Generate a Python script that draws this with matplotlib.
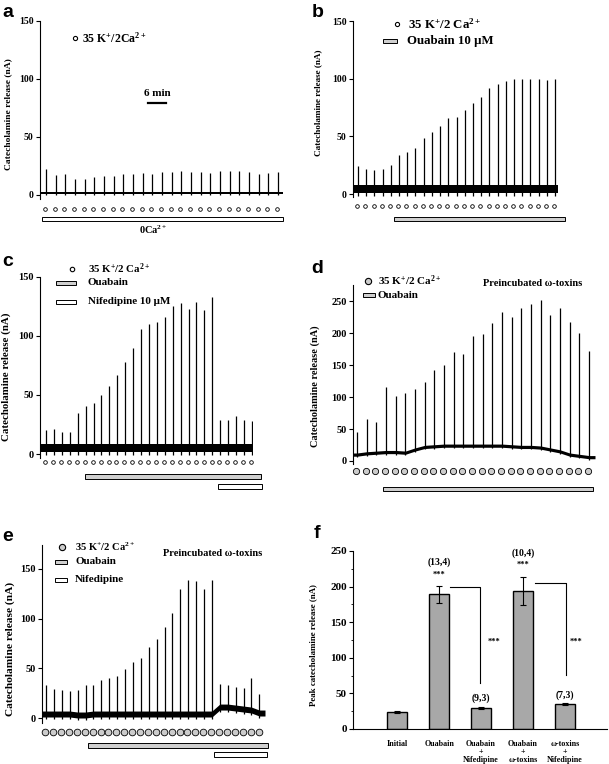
import numpy as np
import matplotlib
matplotlib.use('Agg')
import matplotlib.pyplot as plt
from matplotlib.patches import Rectangle
from matplotlib.lines import Line2D

plt.rcParams['font.family'] = 'Liberation Serif'
plt.rcParams['font.weight'] = 'bold'
plt.rcParams['mathtext.fontset'] = 'custom'
plt.rcParams['mathtext.rm'] = 'Liberation Serif:bold'
plt.rcParams['mathtext.it'] = 'Liberation Serif:bold'
plt.rcParams['mathtext.bf'] = 'Liberation Serif:bold'

# ---- data (peak release per 35 K+ pulse, nA) ----
peaks_a = [22, 17, 18.5, 14, 13.5, 15.5, 16.5, 16.5, 18.5, 18.5, 19, 18.5, 20,
           20, 21, 20, 20, 19, 21, 21, 21, 19.5, 18.5, 19, 19.5]
base_a = 1.5
noise_a = 1.0
zero_ca_a = (-0.41, 24.5)          # 0Ca2+ period (pulse index)
scale_a = (10.5, 12.4)             # 6 min scale bar (pulse index)

peaks_b = [24, 22, 21, 22, 25, 33.5, 36, 40, 48.5, 54, 59, 65.5, 67, 73, 79,
           84.5, 92, 95, 98, 100, 100, 100, 100, 99, 100]
base_b = 4.0
noise_b = 3.5
ouabain_b = (4.4, 25.2)

peaks_c = [20.6, 21.4, 18.6, 18.6, 34.9, 40.6, 43.4, 50, 57.7, 67, 77.7, 90, 106,
           110, 112, 116, 125, 127.7, 122.9, 129, 122, 133.4, 29, 29, 32, 29, 28]
base_c = 5.0
noise_c = 3.5
ouabain_c = (4.9, 27.1)
nifedipine_c = (21.7, 27.3)

peaks_d = [45, 66, 61, 116, 101, 106, 112, 124, 142, 151, 171, 167, 195, 199,
           216, 233, 226, 240, 245, 252, 229, 240, 218, 200, 172]
base_d = [10, 12, 13, 14, 14, 13, 18, 22, 23, 24, 24, 24, 24, 24, 24, 24, 23,
          22, 22, 21, 18, 15, 10, 8, 6]
noise_d = 2.5
ouabain_d = (2.7, 24.4)

peaks_e = [33.5, 29, 27.8, 26.8, 28.5, 33.5, 33.5, 38.5, 40, 41.8, 49.2, 55.9,
           60.3, 71, 79.3, 91.4, 106, 129.6, 139, 138, 129.6, 139, 34.5, 33.5,
           31, 30, 40, 24.4]
base_e = [4, 4, 4, 4, 3, 3, 4, 4, 4, 4, 4, 4, 4, 4, 4, 4, 4, 4, 4, 4, 4, 4,
          11, 11, 10, 9, 8, 5]
noise_e = 3.0
ouabain_e = (5.3, 28.1)
nifedipine_e = (21.3, 28.0)

groups_f = ['Initial', 'Ouabain', 'Ouabain\n+\nNifedipine',
            'Ouabain\n+\nω-toxins', 'ω-toxins\n+\nNifedipine']
means_f = [24, 189, 30, 194, 35]
errs_f = [1, 12, 1.5, 20, 1.5]
ns_f = ['', '(13,4)', '(9,3)', '(10,4)', '(7,3)']

W, H = 609, 764
fig = plt.figure(figsize=(W / 100, H / 100), dpi=100)


def fx(px):
    return px / W


def fy(py):
    return 1 - py / H


def trace_axes(left, right, top, bottom, y0, ppu, first, step):
    ax = fig.add_axes([fx(left), fy(bottom), (right - left) / W, (bottom - top) / H])
    ax.set_xlim((left - first) / step, (right - first) / step)
    ax.set_ylim((y0 - bottom) / ppu, (y0 - top) / ppu)
    for s in ['top', 'right', 'bottom']:
        ax.spines[s].set_visible(False)
    ax.set_xticks([])
    ax.tick_params(axis='y', direction='out', length=3, width=0.8, pad=1.5)
    ax.spines['left'].set_linewidth(0.8)
    return ax


def draw_trace(ax, peaks, base, noise, ppu, y0, marker_py, ms=2.6, mfc='white'):
    n = len(peaks)
    idx = np.arange(n)
    base = np.broadcast_to(np.asarray(base, dtype=float), (n,))
    x0, x1 = ax.get_xlim()
    xs = np.concatenate([[x0], idx, [x1]])
    bs = np.concatenate([[base[0]], base, [base[-1]]])
    ax.fill_between(xs, bs - noise, bs + noise, color='k', lw=0)
    ax.vlines(idx, base - noise * 1.6, peaks, color='k', lw=0.9)
    ym = (y0 - marker_py) / ppu
    ax.plot(idx - 0.1, np.full(n, ym), 'o', ms=ms, mfc=mfc, mec='k', mew=0.6,
            clip_on=False)


def treat_bar(ax, span, py_top, py_bot, y0, ppu, color):
    yb = (y0 - py_bot) / ppu
    ax.add_patch(Rectangle((span[0], yb), span[1] - span[0], (py_bot - py_top) / ppu,
                           facecolor=color, edgecolor='k', lw=0.7, clip_on=False))


def legend_marker(x, y, mfc='white', ms=3.5):
    fig.add_artist(Line2D([fx(x)], [fy(y)], marker='o', ms=ms, mfc=mfc, mec='k',
                          mew=0.8, transform=fig.transFigure))


def legend_box(x0, x1, yc, color, h=4):
    fig.add_artist(Rectangle((fx(x0), fy(yc + h / 2)), (x1 - x0) / W, h / H,
                             facecolor=color, edgecolor='k', lw=0.7,
                             transform=fig.transFigure))


def ftext(x, y, s, size, **kw):
    fig.text(fx(x), fy(y), s, fontsize=size, **kw)


gray_bar = '#cfcfcf'
k_label = r'35 K$^{+}$/2 Ca$^{2+}$'

# ---------- panel a ----------
y0, ppu = 195, 1.16
ax = trace_axes(40, 283, 21, 235, y0, ppu, 46, 9.67)
ax.set_yticks([0, 50, 100, 150])
ax.tick_params(axis='y', labelsize=7)
ax.spines['left'].set_bounds(-3.5, 150)
draw_trace(ax, peaks_a, base_a, noise_a, ppu, y0, 209)
treat_bar(ax, zero_ca_a, 217, 221, y0, ppu, 'white')
ax.plot(scale_a, [(y0 - 103) / ppu] * 2, color='k', lw=1.6)
ftext(157, 93, '6 min', 8, ha='center', va='center')
ftext(153, 230, r'0Ca$^{2+}$', 7.5, ha='center', va='center')
legend_marker(75, 38, ms=3)
ftext(82, 38, r'35 K$^{+}$/2Ca$^{2+}$', 8.5, va='center')
ftext(8, 114, 'Catecholamine release (nA)', 6.8, rotation=90, ha='center', va='center')
ftext(2, 17, 'a', 14, family='Liberation Sans', va='baseline')

# ---------- panel b ----------
y0, ppu = 194, 1.153
ax = trace_axes(353, 558, 21, 230, y0, ppu, 358, 8.21)
ax.set_yticks([0, 50, 100, 150])
ax.tick_params(axis='y', labelsize=7)
ax.spines['left'].set_bounds(-3, 150)
draw_trace(ax, peaks_b, base_b, noise_b, ppu, y0, 206)
treat_bar(ax, ouabain_b, 217, 221, y0, ppu, gray_bar)
legend_marker(397, 24, ms=3)
ftext(408, 24, k_label, 9.3, va='center')
legend_box(383, 397, 41, gray_bar)
ftext(407, 41, 'Ouabain 10 μM', 9.3, va='center')
ftext(318, 103, 'Catecholamine release (nA)', 6.6, rotation=90, ha='center', va='center')
ftext(312, 17, 'b', 14, family='Liberation Sans', va='baseline')

# ---------- panel c ----------
y0, ppu = 454, 1.18
ax = trace_axes(40, 253, 277, 495, y0, ppu, 46, 7.92)
ax.set_yticks([0, 50, 100, 150])
ax.tick_params(axis='y', labelsize=7.5)
ax.spines['left'].set_bounds(-3, 150)
draw_trace(ax, peaks_c, base_c, noise_c, ppu, y0, 462)
treat_bar(ax, ouabain_c, 474, 479, y0, ppu, gray_bar)
treat_bar(ax, nifedipine_c, 484, 489, y0, ppu, 'white')
legend_marker(72, 269, ms=3.2)
ftext(88, 269, k_label, 7.8, va='center')
legend_box(56, 76, 283, gray_bar)
ftext(88, 283, 'Ouabain', 8, va='center')
legend_box(56, 76, 302, 'white')
ftext(88, 302, 'Nifedipine 10 μM', 8, va='center')
ftext(6, 377, 'Catecholamine release (nA)', 7.8, rotation=90, ha='center', va='center')
ftext(2, 266, 'c', 14, family='Liberation Sans', va='baseline')

# ---------- panel d ----------
y0, ppu = 461, 0.639
ax = trace_axes(353, 595, 285, 495, y0, ppu, 357, 9.67)
ax.set_yticks([0, 50, 100, 150, 200, 250])
ax.tick_params(axis='y', labelsize=7.5)
ax.spines['left'].set_bounds(-5, 275)
draw_trace(ax, peaks_d, base_d, noise_d, ppu, y0, 471, ms=4.5, mfc='#cccccc')
treat_bar(ax, ouabain_d, 487, 491, y0, ppu, gray_bar)
legend_marker(368, 281, mfc='#cccccc', ms=4.5)
ftext(378, 281, k_label, 8, va='center')
legend_box(363, 375, 295, gray_bar)
ftext(378, 295, 'Ouabain', 8, va='center')
ftext(483, 284, 'Preincubated ω-toxins', 7.5, va='center')
ftext(315, 386, 'Catecholamine release (nA)', 7.4, rotation=90, ha='center', va='center')
ftext(311, 273, 'd', 14, family='Liberation Sans', va='baseline')

# ---------- panel e ----------
y0, ppu = 718, 0.995
ax = trace_axes(42, 265, 545, 760, y0, ppu, 46, 7.9)
ax.set_yticks([0, 50, 100, 150])
ax.tick_params(axis='y', labelsize=7.5)
ax.spines['left'].set_bounds(-5, 174)
draw_trace(ax, peaks_e, base_e, noise_e, ppu, y0, 732, ms=4.8, mfc='#cccccc')
treat_bar(ax, ouabain_e, 743, 748, y0, ppu, gray_bar)
treat_bar(ax, nifedipine_e, 752, 757, y0, ppu, 'white')
legend_marker(62, 547, mfc='#cccccc', ms=4.5)
ftext(75, 547, k_label, 7.6, va='center')
legend_box(55, 67, 562, gray_bar)
ftext(75, 562, 'Ouabain', 8, va='center')
legend_box(55, 67, 580, 'white')
ftext(75, 580, 'Nifedipine', 8, va='center')
ftext(163, 553, 'Preincubated ω-toxins', 7.5, va='center')
ftext(10, 649, 'Catecholamine release (nA)', 8.2, rotation=90, ha='center', va='center')
ftext(2, 541, 'e', 14, family='Liberation Sans', va='baseline')

# ---------- panel f ----------
ax = fig.add_axes([fx(353), fy(729), (607 - 353) / W, (729 - 551) / H])
xpos = np.arange(len(means_f))
ax.bar(xpos, means_f, width=0.48, color='#a8a8a8', edgecolor='k', lw=1.0,
       yerr=errs_f, capsize=2.5, error_kw=dict(elinewidth=0.8, capthick=0.8))
ax.set_xlim(-1.05, 5.0)
ax.set_ylim(0, 250)
ax.spines['top'].set_visible(False)
ax.spines['right'].set_visible(False)
ax.set_yticks([0, 50, 100, 150, 200, 250])
ax.set_yticks([25, 75, 125, 175, 225], minor=True)
ax.tick_params(axis='y', which='major', direction='out', length=3, labelsize=8, pad=1.5)
ax.tick_params(axis='y', which='minor', direction='out', length=1.5)
ax.set_xticks(xpos)
ax.set_xticklabels(groups_f, fontsize=5.8, linespacing=0.95, va='top')
ax.tick_params(axis='x', length=0, pad=8)
for i in [1, 3]:
    top = means_f[i] + errs_f[i]
    ax.text(i, top + 33, ns_f[i], ha='center', va='center', fontsize=7)
    ax.text(i, top + 16, '***', ha='center', va='center', fontsize=6)
for i in [2, 4]:
    ax.text(i, means_f[i] + 13, ns_f[i], ha='center', va='center', fontsize=7)
ax.plot([1.26, 1.98, 1.98], [200, 200, 64], color='k', lw=0.8)
ax.plot([3.29, 4.02, 4.02], [205, 205, 76], color='k', lw=0.8)
ax.text(2.31, 123, '***', ha='center', va='center', fontsize=6)
ax.text(4.26, 123, '***', ha='center', va='center', fontsize=6)
ftext(313, 645, 'Peak catecholamine release (nA)', 6.4, rotation=90, ha='center', va='center')
ftext(314, 538, 'f', 14, family='Liberation Sans', va='baseline')

fig.savefig('out.png', dpi=100)
